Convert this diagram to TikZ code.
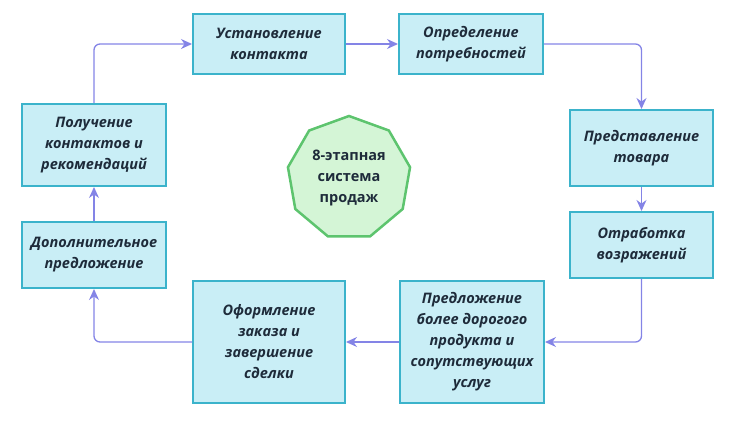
\documentclass[tikz,border=0pt]{standalone}
\usepackage{fontspec}
\setmainfont{Open Sans}
\usetikzlibrary{shapes.geometric,arrows.meta}
\definecolor{boxfill}{HTML}{C9EEF6}
\definecolor{boxline}{HTML}{3BB3CB}
\definecolor{arr}{HTML}{8484E6}
\definecolor{txt}{HTML}{1E2B3A}
\definecolor{gfill}{HTML}{D4F5D6}
\definecolor{gline}{HTML}{5DC46E}
\tikzset{
 stage/.style={draw=boxline,fill=boxfill,line width=2pt,align=center,font=\bfseries\itshape\fontsize{14.5}{21}\selectfont,text=txt,inner sep=0pt},
 flow/.style={draw=arr,line width=1.3pt,-{Stealth[length=11pt,width=10pt]},rounded corners=6pt}
}
\begin{document}
\begin{tikzpicture}[x=1pt,y=-1pt]
\useasboundingbox (0,0) rectangle (730,427);
\node[stage,minimum width=152pt,minimum height=60pt] (a) at (269,44) {Установление\\контакта};
\node[stage,minimum width=144pt,minimum height=60pt] (b) at (471,44) {Определение\\потребностей};
\node[stage,minimum width=143pt,minimum height=76pt] (c) at (641.5,148) {Представление\\товара};
\node[stage,minimum width=143pt,minimum height=66pt] (d) at (641.5,245) {Отработка\\возражений};
\node[stage,minimum width=144pt,minimum height=122pt] (e) at (472,342) {Предложение\\более дорогого\\продукта и\\сопутствующих\\услуг};
\node[stage,minimum width=152pt,minimum height=122pt] (f) at (269,342) {Оформление\\заказа и\\завершение\\сделки};
\node[stage,minimum width=144pt,minimum height=66pt] (g) at (94,255) {Дополнительное\\предложение};
\node[stage,minimum width=144pt,minimum height=82pt] (h) at (94,145) {Получение\\контактов и\\рекомендаций};
\node[regular polygon,regular polygon sides=9,minimum size=124pt,draw=gline,fill=gfill,line width=2.5pt,align=center,text=txt,font=\bfseries\fontsize{14.5}{21}\selectfont,inner sep=0pt] (m) at (349,178) {8-этапная\\система\\продаж};
\draw[flow] (h.north) |- (a.west);
\draw[flow] (a.east) -- (b.west);
\draw[flow] (b.east) -| (c.north);
\draw[flow] (c.south) -- (d.north);
\draw[flow] (d.south) |- (e.east);
\draw[flow] (e.west) -- (f.east);
\draw[flow] (f.west) -| (g.south);
\draw[flow] (g.north) -- (h.south);
\end{tikzpicture}
\end{document}
